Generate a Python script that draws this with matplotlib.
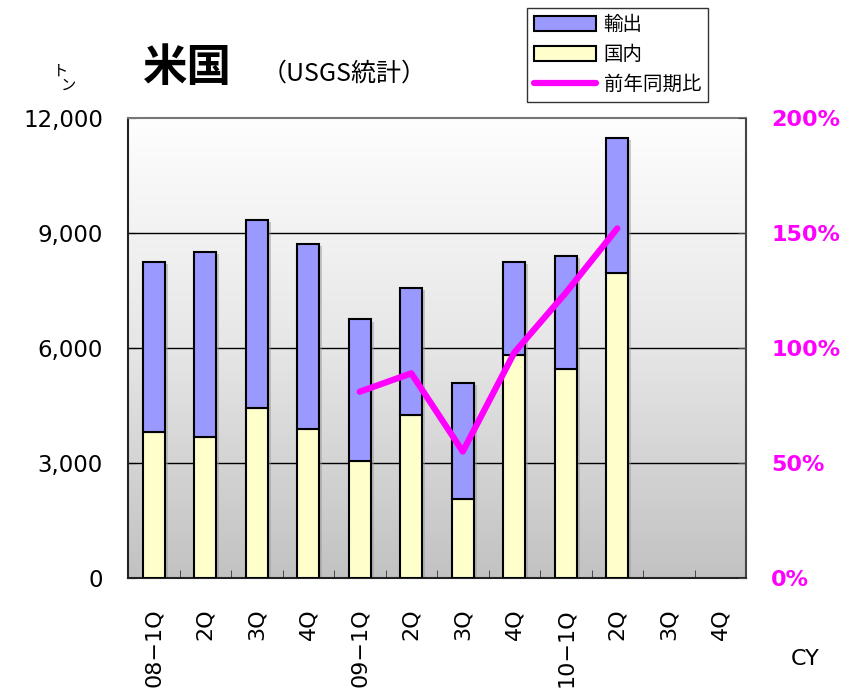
import matplotlib
matplotlib.use("Agg")
import matplotlib.pyplot as plt
import numpy as np
from matplotlib.patches import Patch
from matplotlib.lines import Line2D
from matplotlib.colors import LinearSegmentedColormap

plt.rcParams['font.family'] = ['Noto Sans CJK JP', 'DejaVu Sans']

categories = ["08−1Q", "2Q", "3Q", "4Q", "09−1Q", "2Q", "3Q", "4Q", "10−1Q", "2Q", "3Q", "4Q"]
domestic = [3800, 3680, 4430, 3890, 3050, 4250, 2060, 5820, 5450, 7960]
export_ = [4450, 4830, 4910, 4820, 3700, 3320, 3030, 2430, 2950, 3520]
yoy_idx = [4, 5, 6, 7, 8, 9]
yoy = [81, 89, 55, 98, 124, 152]
left_ticks = [0, 3000, 6000, 9000, 12000]
left_labels = ["0", "3,000", "6,000", "9,000", "12,000"]
right_ticks = [0, 50, 100, 150, 200]
right_labels = ["0%", "50%", "100%", "150%", "200%"]

fig = plt.figure(figsize=(8.58, 6.91), dpi=100)
ax = fig.add_axes([0.1492, 0.1635, 0.7203, 0.6657])
n = len(categories)
ax.set_xlim(-0.5, n - 0.5)
ax.set_ylim(0, 12000)

# gradient background
grad = np.linspace(0, 1, 256).reshape(-1, 1)
cmap = LinearSegmentedColormap.from_list("g", ["#c2c2c2", "#e6e6e6", "#fefefe"])
ax.imshow(grad, extent=[-0.5, n - 0.5, 0, 12000], origin="lower", aspect="auto",
          cmap=cmap, zorder=0)

for y in left_ticks[1:-1]:
    ax.axhline(y, color="black", lw=1.0, zorder=1)

x = np.arange(len(domestic))
w = 0.43
# shadow
ax.bar(x + 0.06, np.array(domestic) + np.array(export_), width=w, bottom=-60,
       color="#9a9a9a", alpha=0.5, zorder=2, linewidth=0)
ax.bar(x, domestic, width=w, color="#ffffcc", edgecolor="black", lw=1.5, zorder=3)
ax.bar(x, export_, width=w, bottom=domestic, color="#9999ff", edgecolor="black", lw=1.5, zorder=3)

ax.set_yticks(left_ticks)
ax.set_yticklabels(left_labels, fontsize=16.5, family=['DejaVu Sans'])
ax.set_xticks(np.arange(n))
ax.set_xticklabels(categories, rotation=90, fontsize=16, family=['DejaVu Sans'])
ax.tick_params(axis='x', length=0, pad=22)
ax.set_xticks(np.arange(n - 1) + 0.5, minor=True)
ax.tick_params(axis='x', which='minor', direction='in', length=6, color='#333333')
ax.tick_params(axis='y', direction='in', length=6, pad=18)
for s in ['left', 'bottom']:
    ax.spines[s].set_color('#222222')
    ax.spines[s].set_linewidth(1.5)
ax.spines['top'].set_color('#777777')
ax.spines['top'].set_linewidth(1.5)
ax.spines['right'].set_color('#444444')
ax.spines['right'].set_linewidth(1.5)

ax2 = ax.twinx()
ax2.set_ylim(0, 200)
ax2.plot(yoy_idx, yoy, color="#ff00ff", lw=4.5, solid_capstyle='round', zorder=5)
ax2.set_yticks(right_ticks)
ax2.set_yticklabels(right_labels, fontsize=16, color="#ff00ff", fontweight='bold',
                    family=['DejaVu Sans'])
ax2.tick_params(axis='y', direction='in', length=6, pad=18, color='#444444')
for s in ax2.spines.values():
    s.set_visible(False)

fig.text(0.167, 0.902, "米国", fontsize=32, fontweight='bold', ha='left', va='center')
fig.text(0.305, 0.893, "（USGS統計）", fontsize=18, ha='left', va='center')
fig.text(0.071, 0.897, "ト", fontsize=11, ha='center', va='center')
fig.text(0.080, 0.876, "ン", fontsize=11, ha='center', va='center')
fig.text(0.938, 0.047, "CY", fontsize=16, ha='center', va='center', family=['DejaVu Sans'])

handles = [Patch(facecolor="#9999ff", edgecolor="black", lw=1.5, label="輸出"),
           Patch(facecolor="#ffffcc", edgecolor="black", lw=1.5, label="国内"),
           Line2D([], [], color="#ff00ff", lw=4.5, solid_capstyle='round', label="前年同期比")]
leg = fig.legend(handles=handles, loc='upper left', bbox_to_anchor=(0.614, 0.989),
                 fontsize=14, frameon=True, fancybox=False, edgecolor='black',
                 handlelength=3.2, handleheight=0.8, borderpad=0.35, labelspacing=0.45,
                 handletextpad=0.4, borderaxespad=0)
leg.get_frame().set_linewidth(1.0)

fig.savefig("out.png", dpi=100)
